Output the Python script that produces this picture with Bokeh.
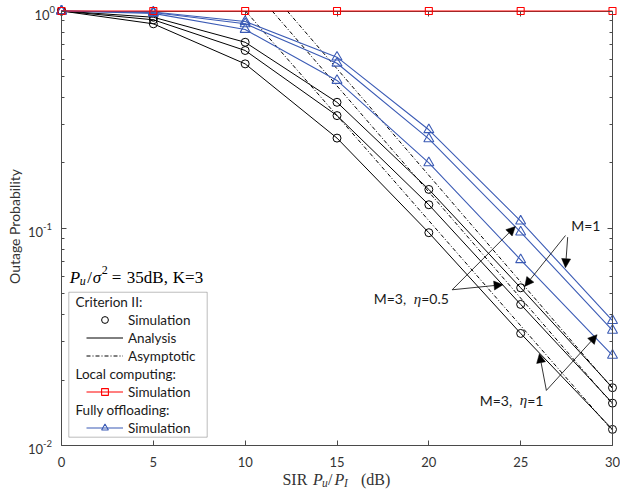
import numpy as np
from bokeh.plotting import figure
from bokeh.models import (FixedTicker, LogAxis, LinearAxis, Label, Arrow, NormalHead,
                          BoxAnnotation, Legend, LegendItem, Range1d, CustomJSTickFormatter)
from bokeh.core.properties import value
from bokeh.embed import file_html
from bokeh.resources import INLINE

# ---------------- data ----------------
sir_db = [0, 5, 10, 15, 20, 25, 30]

# Criterion II (simulation points / analysis curves)
crit_m1 = [1.0, 0.936, 0.718, 0.380, 0.1509, 0.0532, 0.01845]
crit_m3_eta05 = [1.0, 0.911, 0.658, 0.330, 0.1283, 0.0446, 0.01567]
crit_m3_eta1 = [1.0, 0.873, 0.571, 0.260, 0.0954, 0.0328, 0.01186]

# Criterion II asymptotic lines (start / end points)
asym_m1_x = [12.29, 30]
asym_m1_y = [1.0, 0.0183]
asym_m3_eta05_x = [11.47, 30]
asym_m3_eta05_y = [1.0, 0.0155]
asym_m3_eta1_x = [10.02, 30]
asym_m3_eta1_y = [1.0, 0.0117]

# Local computing
local_sim = [1.0, 1.0, 1.0, 1.0, 1.0, 1.0, 1.0]

# Fully offloading
full_m1 = [1.0, 0.99, 0.895, 0.613, 0.284, 0.1078, 0.0376]
full_m3_eta05 = [1.0, 0.985, 0.873, 0.575, 0.258, 0.0960, 0.0339]
full_m3_eta1 = [1.0, 0.975, 0.822, 0.479, 0.200, 0.0716, 0.0260]

x_ticks = [0, 5, 10, 15, 20, 25, 30]
x_lim = (0, 30)
y_ticks = [0.01, 0.1, 1.0]
y_tick_exps = ["-2", "-1", "0"]
y_lim = (0.01, 1.0)
y_minor = [k * 10.0 ** e for e in (-2, -1) for k in range(2, 10)]

# annotation arrows: (x_start, y_start, x_end, y_end)
arrows_m1 = [(27.44, 0.0926, 25.22, 0.0540), (27.56, 0.0910, 27.44, 0.0658)]
arrows_eta05 = [(21.27, 0.0521, 24.71, 0.1019), (21.27, 0.0521, 24.04, 0.0550)]
arrows_eta1 = [(26.40, 0.01793, 26.02, 0.02645), (26.40, 0.01793, 29.16, 0.03236)]

# ---------------- styling ----------------
BLACK = "#000000"
BLUE = "#3b5bb5"
RED = "#ff0000"
AX = "#4a4a4a"
TXT = "#333333"
SANS = "Lato"
SERIF = "Liberation Serif"

W, H = 620, 491
# plot box inside the canvas (pixels): left 61, right 612, top 10.5, bottom 445
PX_L, PX_R, PX_T, PX_B = 61.0, 612.0, 10.5, 445.0
sx = (PX_R - PX_L) / (x_lim[1] - x_lim[0])
dec = (PX_B - PX_T) / (np.log10(y_lim[1]) - np.log10(y_lim[0]))
xr = Range1d(x_lim[0] - PX_L / sx, x_lim[1] + (W - PX_R) / sx)
yr = Range1d(10 ** (np.log10(y_lim[0]) - (H - PX_B) / dec),
             10 ** (np.log10(y_lim[1]) + PX_T / dec))

p = figure(width=W, height=H, x_range=xr, y_range=yr, y_axis_type="log",
           output_backend="svg", toolbar_location=None, min_border=0)
p.background_fill_color = "white"
p.border_fill_color = "white"
p.outline_line_color = None
p.xgrid.visible = False
p.ygrid.visible = False


def style_axis(ax, labels=True):
    ax.axis_line_color = AX
    ax.major_tick_line_color = AX
    ax.minor_tick_line_color = AX
    ax.major_tick_in = 5
    ax.major_tick_out = 0
    ax.minor_tick_in = 3
    ax.minor_tick_out = 0
    if not labels:
        ax.major_label_text_font_size = "0px"
        ax.major_label_standoff = 0
        ax.formatter = CustomJSTickFormatter(code="return ''")


bx = p.xaxis[0]
bx.ticker = FixedTicker(ticks=x_ticks, minor_ticks=[])
bx.fixed_location = y_lim[0]
bx.bounds = x_lim
style_axis(bx)
bx.major_label_text_font = SANS
bx.major_label_text_font_size = "13px"
bx.major_label_text_color = TXT
bx.major_label_standoff = 11

ly = p.yaxis[0]
ly.ticker = FixedTicker(ticks=y_ticks, minor_ticks=y_minor)
ly.fixed_location = x_lim[0]
ly.bounds = y_lim
style_axis(ly, labels=False)

top_ax = LinearAxis(ticker=FixedTicker(ticks=x_ticks, minor_ticks=[]),
                    fixed_location=y_lim[1], bounds=x_lim, level="underlay")
style_axis(top_ax, labels=False)
p.add_layout(top_ax, "above")
right_ax = LogAxis(ticker=FixedTicker(ticks=y_ticks, minor_ticks=y_minor),
                   fixed_location=x_lim[1], bounds=y_lim)
style_axis(right_ax, labels=False)
p.add_layout(right_ax, "right")

# ---------------- series ----------------
asym_r = []
for xs, ys in [(asym_m1_x, asym_m1_y), (asym_m3_eta05_x, asym_m3_eta05_y), (asym_m3_eta1_x, asym_m3_eta1_y)]:
    asym_r.append(p.line(xs, ys, line_color=BLACK, line_width=1, line_dash="4 2 1 2"))

crit_lines, crit_pts = [], []
for ys in [crit_m1, crit_m3_eta05, crit_m3_eta1]:
    crit_lines.append(p.line(sir_db, ys, line_color=BLACK, line_width=1))
    crit_pts.append(p.scatter(sir_db, ys, marker="circle", size=8, fill_color=None,
                              line_color=BLACK, line_width=1))

full_lines, full_pts = [], []
for ys in [full_m1, full_m3_eta05, full_m3_eta1]:
    full_lines.append(p.line(sir_db, ys, line_color=BLUE, line_width=1.1))
    full_pts.append(p.scatter(sir_db, ys, marker="triangle", size=10, fill_color=None,
                              line_color=BLUE, line_width=1.1))

local_line = p.line(sir_db, local_sim, line_color=RED, line_width=1.1)
local_pts = p.scatter(sir_db, local_sim, marker="square", size=7, fill_color=None,
                      line_color=RED, line_width=1.1)

spacer = p.line(x=[], y=[], line_alpha=0)

# ---------------- legend ----------------
box = BoxAnnotation(left=0.3975, right=7.933, bottom=0.01092, top=0.05076,
                    fill_color="white", fill_alpha=1.0, line_color="#262626", line_width=1)
p.add_layout(box)

items = [
    LegendItem(label=value(" "), renderers=[spacer]),
    LegendItem(label=value("Simulation"), renderers=[crit_pts[0]]),
    LegendItem(label=value("Analysis"), renderers=[crit_lines[0]]),
    LegendItem(label=value("Asymptotic"), renderers=[asym_r[0]]),
    LegendItem(label=value(" "), renderers=[spacer]),
    LegendItem(label=value("Simulation"), renderers=[local_line, local_pts]),
    LegendItem(label=value(" "), renderers=[spacer]),
    LegendItem(label=value("Simulation"), renderers=[full_lines[0], full_pts[0]]),
]
legend = Legend(items=items, location=(86, 55), orientation="vertical",
                label_text_font=SANS, label_text_font_size="13.5px", label_text_color="#1a1a1a",
                label_height=17, glyph_height=17, glyph_width=37, label_standoff=5, spacing=1,
                padding=0, margin=0, border_line_alpha=0, background_fill_alpha=0)
p.add_layout(legend)

headings = [("Criterion II:", 0.04591), ("Local computing:", 0.02141), ("Fully offloading:", 0.01462)]
for txt, yy in headings:
    p.add_layout(Label(x=0.762, y=yy, text=txt, text_baseline="middle", text_align="left",
                       text_font=SANS, text_font_size="13.5px", text_color="#1a1a1a"))


def lab(x, y, text, xoff=0, yoff=0, font=SANS, size="13px", style="normal",
        align="left", baseline="alphabetic", color=TXT, angle=0):
    p.add_layout(Label(x=x, y=y, text=text, x_offset=xoff, y_offset=yoff, text_font=font,
                       text_font_size=size, text_font_style=style, text_align=align,
                       text_baseline=baseline, text_color=color, angle=angle))


# y tick labels 10^n
for yv, ex in zip(y_ticks, y_tick_exps):
    off = -(5.5 + 6.5 * len(ex))
    lab(x_lim[0], yv, "10", xoff=off, yoff=-3.5, size="13px", align="right", baseline="middle")
    lab(x_lim[0], yv, ex, xoff=off, yoff=2.0, size="9.5px", align="left", baseline="middle")

# y axis label
lab(-2.559, 0.10188, "Outage Probability", size="14px", align="center", baseline="middle",
    angle=np.pi / 2)

# x axis label: SIR P_u/P_I (dB)
x0 = 12.03
yb = -34
lab(x0, y_lim[0], "SIR", xoff=0, yoff=yb, font=SERIF, size="16px")
lab(x0, y_lim[0], "P", xoff=30.5, yoff=yb, font=SERIF, size="16px", style="italic")
lab(x0, y_lim[0], "u", xoff=39.5, yoff=yb - 3, font=SERIF, size="11.5px", style="italic")
lab(x0, y_lim[0], "/", xoff=45.5, yoff=yb, font=SERIF, size="16px")
lab(x0, y_lim[0], "P", xoff=52, yoff=yb, font=SERIF, size="16px", style="italic")
lab(x0, y_lim[0], "I", xoff=61.5, yoff=yb - 3, font=SERIF, size="11.5px", style="italic")
lab(x0, y_lim[0], "(dB)", xoff=78.5, yoff=yb, font=SERIF, size="16px")

# in-plot note: P_u/sigma^2 = 35dB, K=3
nx, ny = 0.452, 0.05936
lab(nx, ny, "P", xoff=0, font=SERIF, size="17px", style="italic", color=BLACK)
lab(nx, ny, "u", xoff=10, yoff=-3.5, font=SERIF, size="12px", style="italic", color=BLACK)
lab(nx, ny, "/", xoff=17.5, font=SERIF, size="17px", color=BLACK)
lab(nx, ny, "σ", xoff=23, font=SERIF, size="17px", style="italic", color=BLACK)
lab(nx, ny, "2", xoff=32, yoff=7, font=SERIF, size="12px", color=BLACK)
lab(nx, ny, "=", xoff=42, font=SERIF, size="17px", color=BLACK)
lab(nx, ny, "35dB,", xoff=57, font=SERIF, size="17px", color=BLACK)
lab(nx, ny, "K=3", xoff=103, font=SERIF, size="17px", color=BLACK)

# curve annotations
lab(27.75, 0.1030, "M=1", size="14px", baseline="middle", color="#1a1a1a")
for (xs, ys, eta) in [(17.0, 0.04738, "=0.5"), (22.77, 0.01612, "=1")]:
    lab(xs, ys, "M=3,", size="14px", baseline="middle", color="#1a1a1a")
    lab(xs, ys, "η", xoff=40, font=SERIF, size="15px", style="italic", baseline="middle",
        color="#1a1a1a")
    lab(xs, ys, eta, xoff=47.5, size="14px", baseline="middle", color="#1a1a1a")

for (xs, ys, xe, ye) in arrows_m1 + arrows_eta05 + arrows_eta1:
    p.add_layout(Arrow(end=NormalHead(size=9, fill_color=BLACK, line_color=BLACK, line_width=0.5),
                       x_start=xs, y_start=ys, x_end=xe, y_end=ye,
                       line_color=BLACK, line_width=0.8))

open("out.html", "w").write(file_html(p, INLINE))
